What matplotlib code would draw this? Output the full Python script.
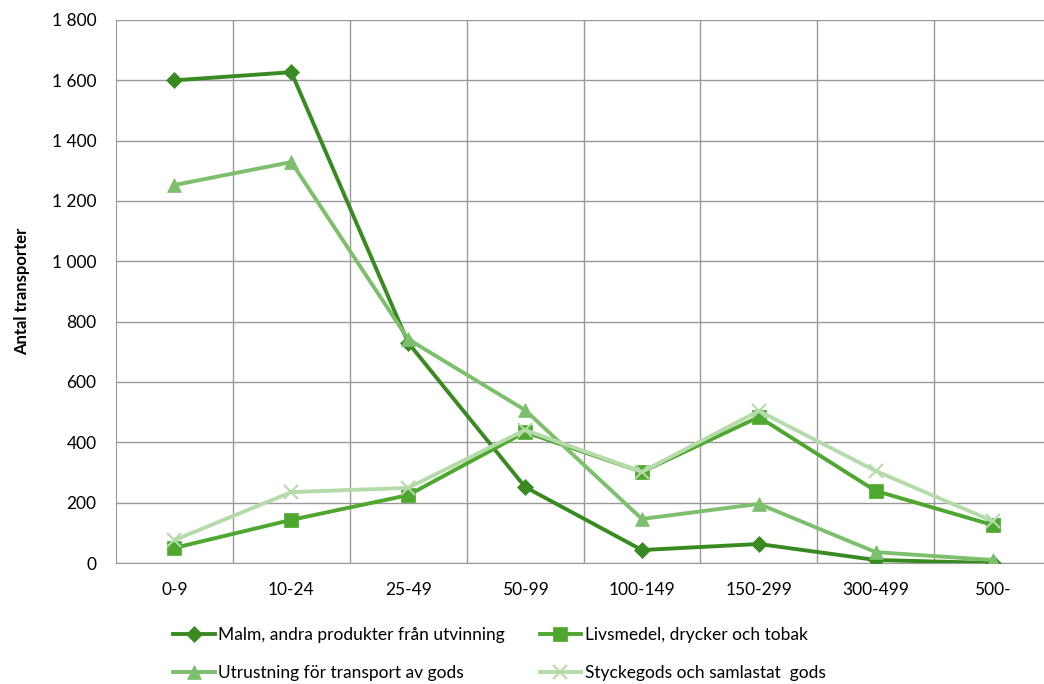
import matplotlib
matplotlib.use("Agg")
import matplotlib.pyplot as plt
from matplotlib.ticker import FuncFormatter

categories = ["0-9", "10-24", "25-49", "50-99", "100-149", "150-299", "300-499", "500-"]
malm = [1600, 1627, 730, 252, 43, 63, 10, 0]
livsmedel = [50, 143, 225, 434, 302, 484, 239, 126]
utrustning = [1253, 1329, 742, 507, 146, 196, 36, 10]
stycke = [76, 235, 249, 441, 302, 504, 305, 139]

series_labels = ["Malm, andra produkter från utvinning", "Livsmedel, drycker och tobak",
                 "Utrustning för transport av gods", "Styckegods och samlastat  gods"]
y_ticks = [0, 200, 400, 600, 800, 1000, 1200, 1400, 1600, 1800]

plt.rcParams['font.family'] = ['Lato', 'DejaVu Sans']

fig = plt.figure(figsize=(10.44, 6.84), dpi=100)
W, H = 1044, 684
left, right, top, bottom = 116, 1051, 20, 563
ax = fig.add_axes([left / W, 1 - bottom / H, (right - left) / W, (bottom - top) / H])

x = list(range(len(categories)))
styles = [
    (malm, "#3a8a22", "D", 8, series_labels[0]),
    (livsmedel, "#4ea72e", "s", 10, series_labels[1]),
    (utrustning, "#7cbf6c", "^", 10, series_labels[2]),
    (stycke, "#b5dbab", "x", 10, series_labels[3]),
]
handles = []
for data, col, mk, ms, lab in styles:
    h, = ax.plot(x, data, color=col, lw=2.8, marker=mk, markersize=ms,
                 markeredgewidth=1.5 if mk == "x" else 0.5, markeredgecolor=col,
                 label=lab, zorder=3)
    handles.append(h)

ax.set_xlim(-0.5, len(categories) - 0.5)
ax.set_ylim(0, 1800)
ax.set_yticks(y_ticks)
ax.yaxis.set_major_formatter(FuncFormatter(lambda v, p: f"{int(v):,}".replace(",", " ")))
ax.set_xticks(x)
ax.set_xticklabels(categories)
ax.set_xticks([i + 0.5 for i in range(len(categories) - 1)], minor=True)
ax.grid(False)
ax.yaxis.grid(True, which="major", color="#999999", lw=1)
ax.xaxis.grid(True, which="minor", color="#999999", lw=1)
ax.tick_params(axis="both", which="both", length=0, labelsize=12.5, colors="#000000")
ax.tick_params(axis="y", pad=14)
ax.tick_params(axis="x", pad=14)
for s in ["top", "right"]:
    ax.spines[s].set_visible(False)
ax.spines["left"].set_color("#999999")
ax.spines["bottom"].set_color("#999999")
ax.set_ylabel("Antal transporter", fontsize=12, fontweight="bold", labelpad=16)

order = [0, 2, 1, 3]
fig.legend(handles=[handles[i] for i in order], loc="upper left",
           bbox_to_anchor=(166 / W, 1 - 620 / H),
           ncol=2, frameon=False, fontsize=12.5, handlelength=2.4, handletextpad=0.2,
           columnspacing=2.0, labelspacing=1.25, borderaxespad=0)

fig.savefig("out.png", dpi=100)
